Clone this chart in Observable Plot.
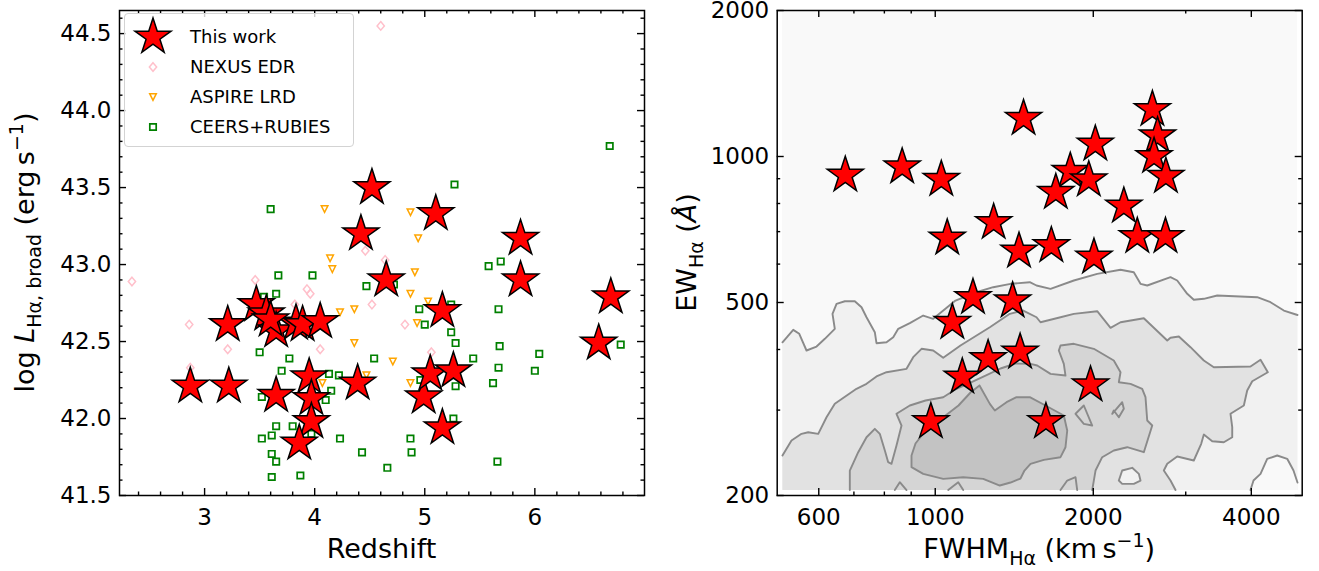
<!DOCTYPE html>
<html><head><meta charset="utf-8">
<script src="https://cdn.jsdelivr.net/npm/d3@7"></script>
<script src="https://cdn.jsdelivr.net/npm/@observablehq/plot@0.6"></script>
<style>
body{margin:0;background:#fff;}
#fig{position:relative;width:1319px;height:571px;font-family:"DejaVu Sans";overflow:hidden;}
#left,#right{position:absolute;top:0;}
#left{left:0;} #right{left:660px;}
#legend{position:absolute;left:124px;top:13px;width:230px;height:134px;border:1px solid #d3d3d3;border-radius:4px;background:rgba(255,255,255,0.8);box-sizing:border-box;}
.row{position:absolute;left:0;width:229px;height:30px;}
.row svg{position:absolute;left:0;top:0;}
.row span{position:absolute;left:65px;top:4px;font-size:18px;color:#000;white-space:nowrap;}
</style></head><body>
<div id="fig"><div id="left"></div><div id="right"></div><div id="legend"></div></div>
<script>
// ---------------- data: left panel (redshift vs log L_Halpha,broad) ----------------
const workZ = [4.52, 5.10, 4.42, 5.87, 4.65, 5.87, 6.69, 3.47, 5.16, 3.56, 3.21, 3.65, 3.83, 3.89, 4.05, 6.58, 2.87, 3.22, 3.65, 3.95, 3.97, 3.97, 3.86, 4.39, 4.99, 5.05, 5.26, 5.16, 3.60];
const workL = [43.50, 43.33, 43.20, 43.17, 42.90, 42.90, 42.79, 42.74, 42.70, 42.68, 42.61, 42.57, 42.62, 42.61, 42.63, 42.49, 42.21, 42.21, 42.15, 42.27, 42.13, 41.98, 41.84, 42.23, 42.14, 42.29, 42.31, 41.94, 42.64];
const nexusZ = [4.60, 4.46, 4.64, 2.34, 3.46, 3.93, 3.96, 3.82, 4.52, 2.86, 3.21, 4.05, 4.82, 5.06, 2.87];
const nexusL = [44.55, 43.09, 43.03, 42.89, 42.90, 42.84, 42.81, 42.74, 42.74, 42.61, 42.45, 42.45, 42.61, 42.43, 42.33];
const aspireZ = [4.09, 4.87, 4.94, 4.14, 4.16, 4.91, 4.87, 4.36, 4.23, 5.03, 4.36, 4.71, 4.47, 4.07, 4.87, 4.93];
const aspireL = [43.36, 43.34, 43.17, 43.04, 42.97, 42.95, 42.81, 42.71, 42.69, 42.76, 42.49, 42.37, 42.28, 42.23, 42.23, 42.62];
const ceersZ = [6.68, 5.27, 3.60, 5.58, 5.69, 3.67, 3.98, 4.47, 4.72, 3.65, 3.54, 4.95, 5.24, 5.67, 3.50, 3.77, 3.70, 4.13, 4.22, 4.54, 5.00, 5.24, 5.28, 5.44, 5.68, 5.67, 5.62, 6.04, 6.00, 6.78, 4.96, 5.28, 4.15, 4.10, 3.52, 3.65, 3.80, 3.52, 3.61, 4.23, 4.43, 4.87, 4.88, 3.61, 3.65, 3.61, 3.87, 4.66, 5.66, 5.26, 3.97];
const ceersL = [43.77, 43.52, 43.36, 42.99, 43.02, 42.93, 42.93, 42.86, 42.87, 42.81, 42.79, 42.71, 42.74, 42.71, 42.43, 42.39, 42.31, 42.29, 42.28, 42.39, 42.61, 42.56, 42.49, 42.39, 42.47, 42.33, 42.23, 42.42, 42.31, 42.48, 42.25, 42.21, 42.18, 42.12, 42.14, 41.95, 41.95, 41.87, 41.89, 41.87, 41.78, 41.87, 41.78, 41.77, 41.72, 41.62, 41.63, 41.68, 41.72, 42.00, 41.90];
const zDomain = [2.227, 6.996];
const lDomain = [41.5, 44.65];
const zTicks = [3, 4, 5, 6];
const zMinor = [2.4, 2.6, 2.8, 3.2, 3.4, 3.6, 3.8, 4.2, 4.4, 4.6, 4.8, 5.2, 5.4, 5.6, 5.8, 6.2, 6.4, 6.6, 6.8];
const lTicks = [41.5, 42.0, 42.5, 43.0, 43.5, 44.0, 44.5];
const lMinor = [41.6, 41.7, 41.8, 41.9, 42.1, 42.2, 42.3, 42.4, 42.6, 42.7, 42.8, 42.9, 43.1, 43.2, 43.3, 43.4, 43.6, 43.7, 43.8, 43.9, 44.1, 44.2, 44.3, 44.4, 44.6];
const legendLabels = ["This work", "NEXUS EDR", "ASPIRE LRD", "CEERS+RUBIES"];

// ---------------- data: right panel (FWHM vs EW) ----------------
const workFWHM = [674, 865, 1027, 1473, 2018, 2592, 2651, 2611, 2750, 1808, 1961, 1697, 2287, 2426, 2745, 1292, 1054, 1444, 1664, 2006, 1180, 1404, 1078, 1261, 1451, 1126, 1976, 981, 1625];
const workEW = [915, 952, 897, 1198, 1060, 1250, 1103, 1000, 910, 932, 895, 843, 790, 684, 684, 731, 679, 638, 655, 620, 512, 504, 455, 383, 395, 351, 338, 284, 284];
const fwhmDomain = [500, 5000];
const ewDomain = [200, 2000];
const fwhmTicks = [600, 1000, 2000, 4000];
const fwhmMinor = [700, 800, 900, 3000];
const ewTicks = [200, 500, 1000, 2000];
const ewMinor = [300, 400, 600, 700, 800, 900];
// density contours of the comparison sample, vertices in log10(FWHM), log10(EW)
const gridLogF = [2.709, 3.69];
const gridLogEW = [2.3123, 3.301];
const contourA = [[2.709,2.617],[2.7295,2.6426],[2.741,2.6344],[2.7548,2.600],[2.7739,2.6082],[2.7897,2.6241],[2.8087,2.6447],[2.8043,2.6756],[2.812,2.6963],[2.8278,2.7016],[2.8468,2.7016],[2.8596,2.6892],[2.8691,2.6686],[2.8849,2.6377],[2.8881,2.615],[2.9072,2.617],[2.92,2.6274],[2.9295,2.6447],[2.9516,2.6563],[2.9771,2.6721],[2.9961,2.6653],[3.0386,2.703],[3.0767,2.7196],[3.1104,2.7305],[3.1434,2.7375],[3.1801,2.7408],[3.1929,2.734],[3.2196,2.7272],[3.264,2.7443],[3.3085,2.7581],[3.3529,2.7664],[3.3782,2.7614],[3.391,2.7375],[3.4038,2.734],[3.4481,2.7511],[3.4609,2.7443],[3.48,2.7169],[3.4925,2.7045],[3.5116,2.7066],[3.5371,2.7134],[3.6133,2.7099],[3.6386,2.6996],[3.664,2.6824],[3.69,2.6732]];
const contourB = [[2.709,2.3835],[2.7262,2.4144],[2.7453,2.4282],[2.758,2.4315],[2.7771,2.4282],[2.7929,2.4624],[2.8087,2.4901],[2.85,2.521],[2.8691,2.5313],[2.8881,2.5464],[2.9072,2.5552],[2.9453,2.5622],[2.958,2.5862],[2.9739,2.6035],[2.9961,2.600],[3.0152,2.5849],[3.0481,2.6103],[3.104,2.648],[3.142,2.6756],[3.1676,2.6824],[3.1929,2.6686],[3.2005,2.6583],[3.2386,2.6686],[3.264,2.6756],[3.3085,2.681],[3.3339,2.6468],[3.3529,2.6583],[3.3973,2.6666],[3.4419,2.6206],[3.4481,2.6262],[3.464,2.6288],[3.4862,2.6068],[3.5116,2.5794],[3.5306,2.5655],[3.6005,2.567],[3.6196,2.5808],[3.6335,2.5552],[3.6038,2.5367],[3.5942,2.5175],[3.5878,2.4866],[3.5624,2.4695],[3.5657,2.4418],[3.5657,2.4212],[3.5497,2.4109],[3.5276,2.413],[3.5116,2.4268],[3.5066,2.4076],[3.4925,2.3732],[3.4609,2.3814],[3.4419,2.3664],[3.4354,2.3525],[3.4481,2.3319],[3.4577,2.3123]];
const contourC = [[2.8373,2.3123],[2.8373,2.3525],[2.8533,2.3903],[2.8691,2.4212],[2.8849,2.4385],[2.8944,2.4282],[2.904,2.3938],[2.9104,2.3697],[2.9167,2.3664],[2.9262,2.4041],[2.9358,2.4453],[2.9262,2.4695],[2.9516,2.4866],[2.9815,2.4969],[3.0152,2.5037],[3.0405,2.521],[3.0672,2.534],[3.0958,2.5484],[3.1243,2.5629],[3.1529,2.5732],[3.1815,2.5725],[3.1942,2.569],[3.2196,2.5519],[3.2481,2.5484],[3.2449,2.5725],[3.2354,2.600],[3.2386,2.6103],[3.264,2.6138],[3.302,2.6035],[3.3401,2.5794],[3.3529,2.5552],[3.3497,2.5346],[3.372,2.5313],[3.3942,2.521],[3.4005,2.5037],[3.4038,2.4556],[3.4133,2.4453],[3.3973,2.3903],[3.3657,2.4006],[3.3401,2.3938],[3.318,2.38],[3.3053,2.3525],[3.299,2.3123]];
const contourD = [[3.0843,2.5278],[3.104,2.49],[3.1135,2.4763],[3.1358,2.4934],[3.1548,2.5037],[3.1801,2.5037],[3.21,2.4866],[3.2449,2.4659],[3.2514,2.435],[3.2481,2.4006],[3.2386,2.38],[3.2068,2.3746],[3.1815,2.3664],[3.17,2.3525],[3.1624,2.336],[3.1434,2.3278],[3.123,2.3216],[3.0914,2.3354],[3.0533,2.3387],[3.0152,2.3354],[2.9771,2.3457],[2.9548,2.3594],[2.9548,2.3835],[2.9624,2.4082],[2.9815,2.435],[3.0196,2.4659],[3.0443,2.4866],[3.0672,2.5134],[3.0843,2.5278]];
const holeCorner = [[3.6005,2.3123],[3.6062,2.3319],[3.6196,2.3457],[3.6323,2.3767],[3.6514,2.3835],[3.6704,2.3767],[3.6824,2.3525],[3.69,2.3278]];
const holeIsland = [[3.3497,2.3319],[3.3561,2.3525],[3.3752,2.3581],[3.3878,2.3457],[3.391,2.3319],[3.3782,2.3251],[3.3561,2.3251],[3.3497,2.3319]];
const smallLoops = [
  [[2.923,2.3123],[2.9325,2.3284],[2.9453,2.3123]],
  [[3.0247,2.3123],[3.0438,2.3284],[3.0533,2.3123]],
  [[3.2386,2.3123],[3.2514,2.3319],[3.2672,2.3387],[3.2704,2.3123]],
  [[3.2672,2.4695],[3.283,2.4866],[3.299,2.4453],[3.283,2.4488],[3.2672,2.4695]],
  [[3.3371,2.4695],[3.3561,2.4934],[3.3592,2.4798],[3.3497,2.4624],[3.3401,2.4763],[3.3371,2.4695]]
];

// ---------------- symbols ----------------
function starSym(){return {draw(ctx,size){const R=Math.sqrt(size/Math.PI),r=R*0.381966;for(let i=0;i<10;i++){const a=-Math.PI/2+i*Math.PI/5,q=i%2?r:R,x=q*Math.cos(a),y=q*Math.sin(a);if(i)ctx.lineTo(x,y);else ctx.moveTo(x,y);}ctx.closePath();}};}
function squareSym(){return {draw(ctx,size){const s=Math.sqrt(size/Math.PI);ctx.moveTo(-s,-s);ctx.lineTo(s,-s);ctx.lineTo(s,s);ctx.lineTo(-s,s);ctx.closePath();}};}
function diamondSym(){return {draw(ctx,size){const s=Math.sqrt(size/Math.PI);ctx.moveTo(0,-s);ctx.lineTo(s*0.85,0);ctx.lineTo(0,s);ctx.lineTo(-s*0.85,0);ctx.closePath();}};}
function triDownSym(){return {draw(ctx,size){const s=Math.sqrt(size/Math.PI);ctx.moveTo(0,s);ctx.lineTo(-s,-s);ctx.lineTo(s,-s);ctx.closePath();}};}

const W = 525, H = 485;
const tk = {stroke:"black", strokeOpacity:1, strokeWidth:1.4};
function frameTicks(xMaj,xMin,yMaj,yMin){
  return [
    Plot.gridX(xMaj,{...tk,insetTop:H-7}), Plot.gridX(xMaj,{...tk,insetBottom:H-7}),
    Plot.gridX(xMin,{...tk,insetTop:H-3.5}), Plot.gridX(xMin,{...tk,insetBottom:H-3.5}),
    Plot.gridY(yMaj,{...tk,insetRight:W-7}), Plot.gridY(yMaj,{...tk,insetLeft:W-7}),
    Plot.gridY(yMin,{...tk,insetRight:W-3.5}), Plot.gridY(yMin,{...tk,insetLeft:W-3.5})
  ];
}
const svgStyle = {fontFamily:"DejaVu Sans", fontSize:"23px", background:"transparent", overflow:"visible", color:"black"};

// ---------------- left plot ----------------
const pts = (xs, ys) => xs.map((x,i)=>({x, y: ys[i]}));
const left = Plot.plot({
  width: 660, height: 571, marginLeft: 119, marginRight: 16, marginTop: 10, marginBottom: 76,
  style: svgStyle,
  x: {domain: zDomain, label: null},
  y: {domain: lDomain, label: null},
  marks: [
    Plot.dot(pts(nexusZ, nexusL), {x:"x", y:"y", symbol: diamondSym(), r: 4.3, fill:"none", stroke:"#ffc0cb", strokeWidth:1.5}),
    Plot.dot(pts(aspireZ, aspireL), {x:"x", y:"y", symbol: triDownSym(), r: 3.3, fill:"none", stroke:"#ffa500", strokeWidth:1.5}),
    Plot.dot(pts(ceersZ, ceersL), {x:"x", y:"y", symbol: squareSym(), r: 3.2, fill:"none", stroke:"#008000", strokeWidth:1.7}),
    Plot.dot(pts(workZ, workL), {x:"x", y:"y", symbol: starSym(), r: 19, fill:"#ff0000", stroke:"black", strokeWidth:1.5}),
    ...frameTicks(zTicks, zMinor, lTicks, lMinor),
    Plot.frame({stroke:"black", strokeWidth:1.5}),
    Plot.axisX(zTicks, {tickSize:0, tickPadding:13, fontSize:23, tickFormat: d => String(d), label:null}),
    Plot.axisY(lTicks, {tickSize:0, tickPadding:8, fontSize:23, tickFormat: d3.format(".1f"), label:null})
  ]
});
document.getElementById("left").appendChild(left);

// ---------------- right plot ----------------
const P = a => a.map(d => ({f: 10**d[0], e: 10**d[1]}));
const fillA = P([...contourA, [gridLogF[1], gridLogEW[0]], [gridLogF[0], gridLogEW[0]]]);
const fillB = P([...contourB, [gridLogF[0], gridLogEW[0]]]);
const fillCorner = P([...holeCorner, [gridLogF[1], gridLogEW[0]]]);
const lineStyle = {x:"f", y:"e", stroke:"#8a8a8a", strokeWidth:1.9, curve:"linear"};
const poly = (d, fill) => Plot.line(d, {x:"f", y:"e", fill, stroke:"none", curve:"linear"});
const right = Plot.plot({
  width: 659, height: 571, marginLeft: 116.7, marginRight: 17.3, marginTop: 10, marginBottom: 76,
  style: svgStyle,
  x: {type:"log", domain: fwhmDomain, label: null},
  y: {type:"log", domain: ewDomain, label: null},
  marks: [
    Plot.rect([0], {x1: () => 10**gridLogF[0], x2: () => 10**gridLogF[1], y1: () => 10**gridLogEW[0], y2: () => 10**gridLogEW[1], fill:"#f9f9f9"}),
    poly(fillA, "#f1f1f1"),
    poly(fillB, "#e2e2e2"),
    poly(P(holeIsland), "#f1f1f1"),
    poly(P(contourC), "#d5d5d5"),
    poly(P(contourD), "#c3c3c3"),
    poly(fillCorner, "#f9f9f9"),
    Plot.line(P(contourA), lineStyle),
    Plot.line(P(contourB), lineStyle),
    Plot.line(P(contourC), lineStyle),
    Plot.line(P(contourD), lineStyle),
    Plot.line(P(holeCorner), lineStyle),
    Plot.line(P(holeIsland), lineStyle),
    ...smallLoops.map(l => Plot.line(P(l), lineStyle)),
    Plot.dot(workFWHM.map((f,i)=>({f, e: workEW[i]})), {x:"f", y:"e", symbol: starSym(), r: 19, fill:"#ff0000", stroke:"black", strokeWidth:1.5}),
    ...frameTicks(fwhmTicks, fwhmMinor, ewTicks, ewMinor),
    Plot.frame({stroke:"black", strokeWidth:1.5}),
    Plot.axisX(fwhmTicks, {tickSize:0, tickPadding:13, fontSize:23, tickFormat: d => String(d), label:null}),
    Plot.axisY(ewTicks, {tickSize:0, tickPadding:8, fontSize:23, tickFormat: d => String(d), label:null})
  ]
});
document.getElementById("right").appendChild(right);

// ---------------- axis titles with sub/superscripts ----------------
function addLabel(svg, x, y, rotate, parts){
  const t = d3.select(svg).append("text")
    .attr("transform", `translate(${x},${y})` + (rotate ? ` rotate(${rotate})` : ""))
    .attr("text-anchor","middle").attr("font-family","DejaVu Sans").attr("font-size",27).attr("fill","black");
  let cur = 0;
  for (const p of parts){
    const target = p.sub ? 7 : p.sup ? -11 : 0;
    const ts = t.append("tspan").attr("dy", target - cur).text(p.t);
    if (p.sub || p.sup) ts.attr("font-size", 19);
    if (p.it) ts.attr("font-style","italic");
    cur = target;
  }
}
addLabel(left, 381.5, 558, 0, [{t:"Redshift"}]);
addLabel(left, 34, 252.5, -90, [{t:"log "},{t:"L",it:true},{t:"Hα, broad",sub:true},{t:" (erg\u2009s"},{t:"−1",sup:true},{t:")"}]);
addLabel(right, 379.2, 558, 0, [{t:"FWHM"},{t:"Hα",sub:true},{t:" (km\u2009s"},{t:"−1",sup:true},{t:")"}]);
addLabel(right, 36, 252.5, -90, [{t:"EW"},{t:"Hα",sub:true},{t:" ("},{t:"Å",it:true},{t:")"}]);

// ---------------- legend ----------------
const legendSyms = [
  {sym: starSym(), r: 19, fill:"#ff0000", stroke:"black", sw:1.5},
  {sym: diamondSym(), r: 4.3, fill:"none", stroke:"#ffc0cb", sw:1.5},
  {sym: triDownSym(), r: 3.3, fill:"none", stroke:"#ffa500", sw:1.5},
  {sym: squareSym(), r: 3.2, fill:"none", stroke:"#008000", sw:1.7}
];
const lg = d3.select("#legend");
legendLabels.forEach((lab, i) => {
  const row = lg.append("div").attr("class","row").style("top", (8 + i*30) + "px");
  const s = row.append("svg").attr("width", 60).attr("height", 30).style("overflow","visible");
  const L = legendSyms[i];
  s.append("path").attr("transform","translate(28,15)")
    .attr("d", d3.symbol(L.sym, Math.PI*L.r*L.r)())
    .attr("fill", L.fill).attr("stroke", L.stroke).attr("stroke-width", L.sw);
  row.append("span").text(lab);
});
</script>
</body></html>
